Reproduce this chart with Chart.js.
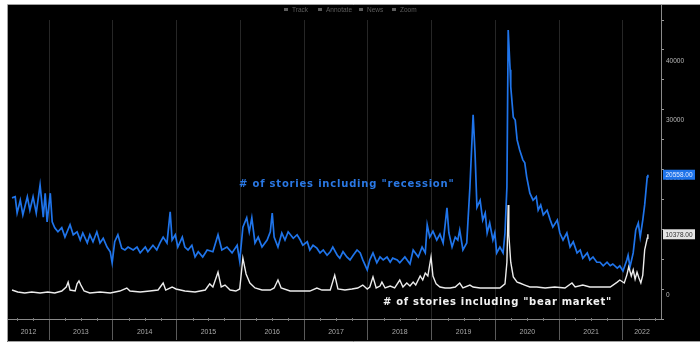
<!DOCTYPE html>
<html>
<head>
<meta charset="utf-8">
<script src="https://cdn.jsdelivr.net/npm/chart.js@4.4.1/dist/chart.umd.min.js"></script>
<style>
  html, body { margin: 0; padding: 0; background: #fff; }
  #chart { display: block; }
</style>
</head>
<body>
<canvas id="chart" width="700" height="348"></canvas>
<script>
// Weekly story counts, dates as decimal years
const recessionYears = [
    2012.42, 2012.47, 2012.50, 2012.55, 2012.59, 2012.66, 2012.70, 2012.75, 2012.80, 2012.86,
    2012.91, 2012.94, 2012.97, 2013.02, 2013.05, 2013.09, 2013.14, 2013.20, 2013.25, 2013.33,
    2013.38, 2013.44, 2013.49, 2013.53, 2013.60, 2013.64, 2013.69, 2013.75, 2013.80, 2013.85,
    2013.91, 2013.96, 2013.99, 2014.03, 2014.08, 2014.14, 2014.19, 2014.24, 2014.32, 2014.38,
    2014.43, 2014.51, 2014.55, 2014.63, 2014.69, 2014.74, 2014.79, 2014.85, 2014.90, 2014.93,
    2014.98, 2015.02, 2015.09, 2015.13, 2015.18, 2015.24, 2015.29, 2015.34, 2015.41, 2015.48,
    2015.57, 2015.65, 2015.71, 2015.79, 2015.87, 2015.95, 2015.99, 2016.04, 2016.10, 2016.14,
    2016.18, 2016.23, 2016.28, 2016.34, 2016.42, 2016.47, 2016.50, 2016.53, 2016.59, 2016.65,
    2016.70, 2016.75, 2016.83, 2016.89, 2016.94, 2016.98, 2017.05, 2017.09, 2017.14, 2017.20,
    2017.25, 2017.30, 2017.36, 2017.41, 2017.45, 2017.52, 2017.56, 2017.61, 2017.67, 2017.72,
    2017.77, 2017.83, 2017.88, 2017.92, 2017.99, 2018.03, 2018.08, 2018.14, 2018.19, 2018.24,
    2018.30, 2018.35, 2018.39, 2018.46, 2018.50, 2018.58, 2018.66, 2018.71, 2018.79, 2018.85,
    2018.90, 2018.93, 2018.97, 2019.02, 2019.08, 2019.13, 2019.18, 2019.24, 2019.27, 2019.32,
    2019.37, 2019.41, 2019.44, 2019.49, 2019.55, 2019.60, 2019.65, 2019.68, 2019.71, 2019.76,
    2019.80, 2019.84, 2019.87, 2019.91, 2019.96, 2019.99, 2020.02, 2020.07, 2020.12, 2020.15,
    2020.18, 2020.20, 2020.23, 2020.24, 2020.28, 2020.31, 2020.34, 2020.38, 2020.43, 2020.46,
    2020.49, 2020.54, 2020.59, 2020.64, 2020.67, 2020.71, 2020.75, 2020.81, 2020.86, 2020.90,
    2020.97, 2021.01, 2021.06, 2021.12, 2021.17, 2021.22, 2021.28, 2021.33, 2021.37, 2021.44,
    2021.48, 2021.53, 2021.59, 2021.64, 2021.69, 2021.75, 2021.80, 2021.84, 2021.91, 2021.95,
    2022.00, 2022.06, 2022.08, 2022.11, 2022.16, 2022.20, 2022.24, 2022.27, 2022.31, 2022.34,
    2022.38, 2022.39
];
const recessionCounts = [
    16600, 16800, 14000, 16200, 13700, 16800, 14500, 16800, 14000, 18800,
    13300, 17400, 12500, 17400, 12500, 11500, 10800, 11500, 9900, 12000,
    10300, 10800, 9400, 10600, 8900, 10300, 9100, 10800, 8900, 9700,
    8200, 7400, 5500, 9100, 10300, 8000, 7700, 8200, 7700, 8200,
    7200, 8200, 7400, 8500, 7700, 8900, 9900, 8900, 14200, 9400,
    10300, 8200, 9900, 8200, 7700, 8500, 6500, 7400, 6500, 7700,
    7400, 10300, 7700, 8200, 7200, 8500, 5800, 11600, 13200, 10800,
    13200, 8900, 9900, 8200, 9400, 10800, 14000, 9900, 8200, 10600,
    9400, 10800, 9700, 10300, 9400, 8500, 9100, 7700, 8500, 8000,
    7200, 7700, 6800, 7400, 8200, 6800, 6300, 7400, 6500, 6000,
    6800, 7700, 7200, 6000, 4300, 6000, 7200, 5500, 6500, 6000,
    6500, 5600, 6300, 6000, 5500, 6500, 5300, 7700, 6500, 8200,
    7200, 12000, 9900, 10900, 9400, 10400, 8900, 14900, 10600, 8200,
    9900, 9400, 11100, 7700, 8900, 18500, 30800, 24300, 15000, 16200,
    12800, 14000, 10600, 12300, 9400, 10600, 7200, 8200, 7200, 10600,
    18500, 45300, 38500, 35600, 30400, 29900, 26500, 24800, 23100, 22600,
    20200, 17400, 16200, 16800, 14500, 15400, 13700, 14500, 12800, 11600,
    12800, 10600, 9400, 10600, 8200, 9100, 7200, 7700, 6300, 7200,
    6000, 6500, 5600, 5600, 5000, 5600, 5000, 5300, 4600, 5000,
    4100, 6000, 6800, 4800, 7200, 11100, 12300, 9900, 12800, 15400,
    20200, 20558
];

const bearYears = [
    2012.42, 2012.51, 2012.62, 2012.73, 2012.86, 2012.98, 2013.09, 2013.20, 2013.27, 2013.30,
    2013.33, 2013.41, 2013.44, 2013.47, 2013.50, 2013.55, 2013.64, 2013.80, 2013.96, 2014.11,
    2014.22, 2014.27, 2014.43, 2014.58, 2014.71, 2014.79, 2014.83, 2014.93, 2014.99, 2015.13,
    2015.29, 2015.45, 2015.52, 2015.57, 2015.65, 2015.70, 2015.76, 2015.84, 2015.93, 2015.99,
    2016.04, 2016.09, 2016.15, 2016.23, 2016.34, 2016.47, 2016.53, 2016.59, 2016.64, 2016.78,
    2016.94, 2017.09, 2017.20, 2017.28, 2017.41, 2017.48, 2017.53, 2017.64, 2017.75, 2017.84,
    2017.92, 2017.99, 2018.03, 2018.08, 2018.13, 2018.19, 2018.22, 2018.27, 2018.35, 2018.42,
    2018.50, 2018.55, 2018.61, 2018.66, 2018.71, 2018.75, 2018.82, 2018.86, 2018.90, 2018.94,
    2018.99, 2019.02, 2019.07, 2019.13, 2019.21, 2019.29, 2019.37, 2019.44, 2019.49, 2019.60,
    2019.65, 2019.76, 2019.91, 2020.07, 2020.15, 2020.18, 2020.20, 2020.21, 2020.24, 2020.28,
    2020.34, 2020.38, 2020.46, 2020.54, 2020.65, 2020.78, 2020.93, 2021.09, 2021.20, 2021.25,
    2021.37, 2021.48, 2021.64, 2021.80, 2021.91, 2021.95, 2022.02, 2022.06, 2022.09, 2022.13,
    2022.16, 2022.19, 2022.22, 2022.25, 2022.28, 2022.31, 2022.34, 2022.38, 2022.39
];
const bearCounts = [
    850, 510, 340, 510, 340, 510, 340, 680, 1370, 2200,
    850, 680, 1900, 2400, 1700, 680, 340, 510, 340, 680,
    1200, 680, 510, 680, 850, 2050, 850, 1370, 1030, 680,
    510, 850, 1900, 1370, 3900, 1370, 1700, 850, 680, 1030,
    6300, 3600, 2050, 1200, 850, 850, 1200, 2560, 1200, 680,
    680, 680, 1200, 850, 850, 3400, 1030, 850, 1030, 1200,
    1700, 1030, 1370, 3100, 1200, 1540, 2200, 1200, 1540, 1200,
    2560, 1370, 2050, 1540, 2200, 1700, 3250, 2560, 3760, 3250,
    6500, 3250, 1900, 1370, 1200, 1200, 1370, 2050, 1200, 1700,
    1370, 1200, 1200, 1200, 1900, 5600, 15400, 10300, 5600, 3100,
    2200, 2050, 1700, 1370, 1370, 1200, 1370, 1200, 2050, 1370,
    1700, 1370, 1370, 1370, 2200, 2560, 2050, 3400, 4800, 3250,
    4300, 2700, 3900, 2900, 2050, 3400, 7700, 9700, 10378
];

const yearLabels = ['2012', '2013', '2014', '2015', '2016', '2017', '2018', '2019', '2020', '2021', '2022'];
const countTicks = [0, 10000, 20000, 30000, 40000];
const toolbarItems = ['Track', 'Annotate', 'News', 'Zoom'];

const BLUE = '#1f74ea';
const WHITE = '#ececec';

function points(xs, ys) {
    return xs.map((x, i) => ({ x: x, y: ys[i] }));
}

// Black terminal frame, toolbar, axis labels, value tags and captions
const terminalFrame = {
    id: 'terminalFrame',
    beforeDraw(chart) {
        const c = chart.ctx;
        c.save();
        c.fillStyle = '#fff';
        c.fillRect(0, 0, chart.width, chart.height);
        c.fillStyle = '#000';
        c.fillRect(7, 5, 693, 337);
        c.strokeStyle = '#a0a0a0';
        c.lineWidth = 1;
        c.beginPath();
        c.moveTo(7.5, 341.5); c.lineTo(7.5, 4.5); c.lineTo(700, 4.5);
        c.moveTo(7.5, 341.5); c.lineTo(700, 341.5);
        c.stroke();
        c.restore();
    },
    afterDraw(chart) {
        const c = chart.ctx;
        const area = chart.chartArea;
        const xs = chart.scales.x;
        const ys = chart.scales.y;
        c.save();

        // axis line continues up to the frame top
        c.strokeStyle = '#8a8a8a';
        c.lineWidth = 1;
        c.beginPath();
        c.moveTo(Math.round(area.right) + 0.5, 5);
        c.lineTo(Math.round(area.right) + 0.5, area.top);
        c.stroke();

        // quarter marks on the time axis
        c.fillStyle = '#777';
        for (let y = 2012; y <= 2022; y++) {
            [0.25, 0.5, 0.75].forEach(q => {
                const px = xs.getPixelForValue(y + q);
                if (px > area.left && px < area.right) c.fillRect(Math.round(px), area.bottom - 1, 1, 3);
            });
        }

        // year labels centred in each visible year span
        c.fillStyle = '#a8a8a8';
        c.font = '7px "Liberation Sans", Arial, sans-serif';
        c.textAlign = 'center';
        c.textBaseline = 'middle';
        yearLabels.forEach(label => {
            const yr = Number(label);
            const a = Math.max(area.left, xs.getPixelForValue(yr));
            const b = Math.min(area.right, xs.getPixelForValue(yr + 1));
            c.fillText(label, (a + b) / 2, 332);
        });

        // count labels on the right axis
        c.fillStyle = '#b8b8b8';
        c.font = '6.5px "Liberation Sans", Arial, sans-serif';
        c.textAlign = 'left';
        countTicks.forEach(v => {
            c.fillText(String(v), area.right + 5, ys.getPixelForValue(v) + 0.5);
        });

        // toolbar
        c.fillStyle = '#5c5c5c';
        const toolX = [292, 326, 367, 400];
        toolbarItems.forEach((t, i) => {
            c.fillRect(toolX[i] - 8, 8, 4, 3);
            c.fillText(t, toolX[i], 10);
        });

        // last value tags on the right axis
        const tags = [
            { ds: 1, bg: '#1f74ea', fg: '#dfe9ff' },
            { ds: 0, bg: '#e4e4e4', fg: '#333' }
        ];
        c.textAlign = 'center';
        tags.forEach(t => {
            const data = chart.data.datasets[t.ds].data;
            const last = data[data.length - 1].y;
            const py = ys.getPixelForValue(last);
            c.fillStyle = t.bg;
            c.fillRect(area.right + 2, py - 5, 32, 10);
            c.fillStyle = t.fg;
            c.fillText(last.toFixed(2), area.right + 18, py + 0.5);
        });

        // series captions
        c.textAlign = 'left';
        c.textBaseline = 'alphabetic';
        c.font = 'bold 10px "DejaVu Sans", Verdana, sans-serif';
        c.letterSpacing = '0.8px';
        c.fillStyle = '#2a78e4';
        c.fillText('# of stories including "recession"', 239, 187);
        c.letterSpacing = '0.7px';
        c.fillStyle = '#f2f2f2';
        c.fillText('# of stories including "bear market"', 383, 305);

        c.restore();
    }
};

new Chart(document.getElementById('chart'), {
    type: 'line',
    data: {
        datasets: [
            {
                label: 'bear market',
                data: points(bearYears, bearCounts),
                borderColor: WHITE,
                borderWidth: 1.4,
                pointRadius: 0,
                tension: 0
            },
            {
                label: 'recession',
                data: points(recessionYears, recessionCounts),
                borderColor: BLUE,
                borderWidth: 1.7,
                pointRadius: 0,
                tension: 0
            }
        ]
    },
    options: {
        responsive: false,
        animation: false,
        events: [],
        layout: { padding: { left: 8, top: 20, right: 0, bottom: 0 } },
        plugins: {
            legend: { display: false },
            tooltip: { enabled: false }
        },
        scales: {
            x: {
                type: 'linear',
                min: 2012.357,
                max: 2022.596,
                ticks: { stepSize: 1, includeBounds: false, display: false },
                grid: {
                    color: '#262626',
                    tickColor: '#5a5a5a',
                    tickLength: 21,
                    lineWidth: 1
                },
                border: { color: '#8a8a8a' },
                afterFit: scale => { scale.height = 29; }
            },
            y: {
                position: 'right',
                min: -4100,
                max: 47000,
                ticks: { stepSize: 5000, includeBounds: false, display: false },
                grid: {
                    color: ctx => (ctx.tick && ctx.tick.value % 10000 === 0 && ctx.tick.value !== 0 ? '#222' : 'transparent'),
                    tickColor: '#9a9a9a',
                    tickLength: 3
                },
                border: { color: '#8a8a8a' },
                afterFit: scale => { scale.width = 39; }
            }
        }
    },
    plugins: [terminalFrame]
});
</script>
</body>
</html>
